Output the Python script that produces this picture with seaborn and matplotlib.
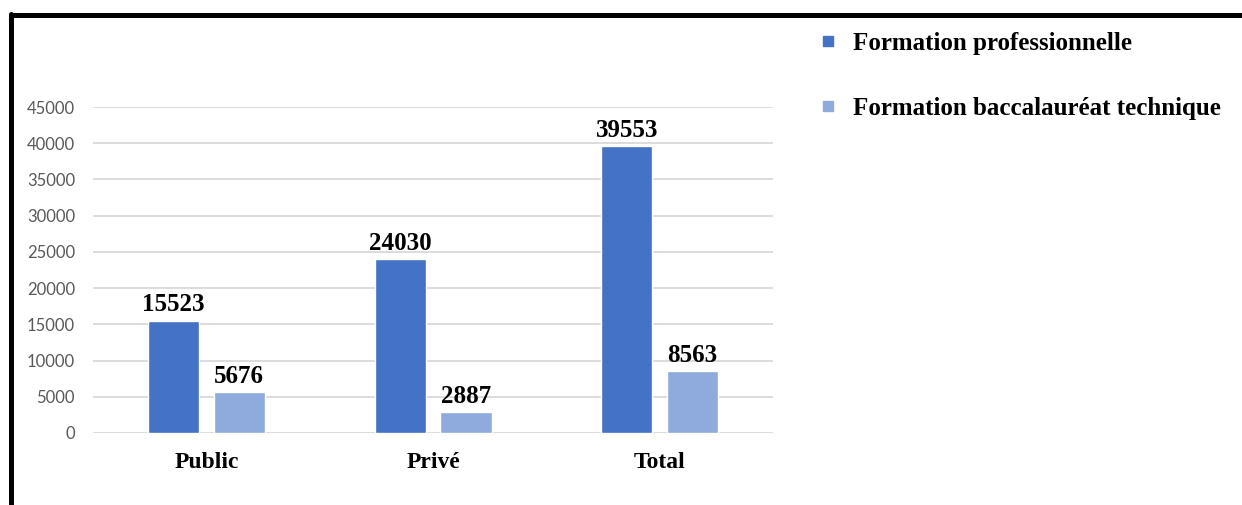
import matplotlib
matplotlib.use('Agg')
import matplotlib.pyplot as plt
import seaborn as sns
import pandas as pd
from matplotlib.lines import Line2D

# data
secteurs = ['Public', 'Privé', 'Total']
formation_pro = [15523, 24030, 39553]
formation_bac = [5676, 2887, 8563]
series = ['Formation professionnelle', 'Formation baccalauréat technique']
couleurs = ['#4472C4', '#8FAADC']

df = pd.DataFrame({
    'secteur': secteurs * 2,
    'effectif': formation_pro + formation_bac,
    'type': [series[0]] * 3 + [series[1]] * 3,
})

sns.set_style('white')
fig = plt.figure(figsize=(12.42, 5.05), dpi=100)
ax = fig.add_axes([0.0749, 0.1426, 0.5475, 0.6455])

sns.barplot(data=df, x='secteur', y='effectif', hue='type', order=secteurs,
            hue_order=series, palette=couleurs, width=0.58, gap=0.22,
            saturation=1, ax=ax, legend=False)

for cont in ax.containers:
    ax.bar_label(cont, fmt='%d', padding=3, fontsize=18, fontweight='bold',
                 family='Liberation Serif', color='black')

ax.set_xlim(-0.5, 2.5)
ax.set_ylim(0, 45000)
ax.set_yticks(range(0, 45001, 5000))
ax.yaxis.grid(True, color='#d9d9d9', linewidth=1.3)
ax.set_axisbelow(True)
for s in ax.spines.values():
    s.set_visible(False)
ax.set_xlabel('')
ax.set_ylabel('')
ax.tick_params(axis='y', length=0, pad=13, labelsize=12, labelcolor='#595959')
ax.tick_params(axis='x', length=0, pad=14, labelcolor='black')
for lab in ax.get_yticklabels():
    lab.set_family('Lato')
for lab in ax.get_xticklabels():
    lab.set_family('Liberation Serif')
    lab.set_fontweight('bold')
    lab.set_fontsize(17)

handles = [Line2D([], [], marker='s', linestyle='', color=c, markersize=7) for c in couleurs]
leg = fig.legend(handles, series, loc='upper left', bbox_to_anchor=(0.6385, 0.982),
                 frameon=False, handletextpad=0.5, labelspacing=1.7, handlelength=1.0,
                 prop={'family': 'Liberation Serif', 'weight': 'bold', 'size': 18})
for t in leg.get_texts():
    t.set_color('black')

# black frame on top and left
fig.add_artist(Line2D([0.0085, 1.0], [0.97, 0.97], color='black', linewidth=3.6,
                      transform=fig.transFigure))
fig.add_artist(Line2D([0.0085, 0.0085], [0.0, 0.972], color='black', linewidth=3.6,
                      transform=fig.transFigure))

fig.savefig('out.png', dpi=100)
